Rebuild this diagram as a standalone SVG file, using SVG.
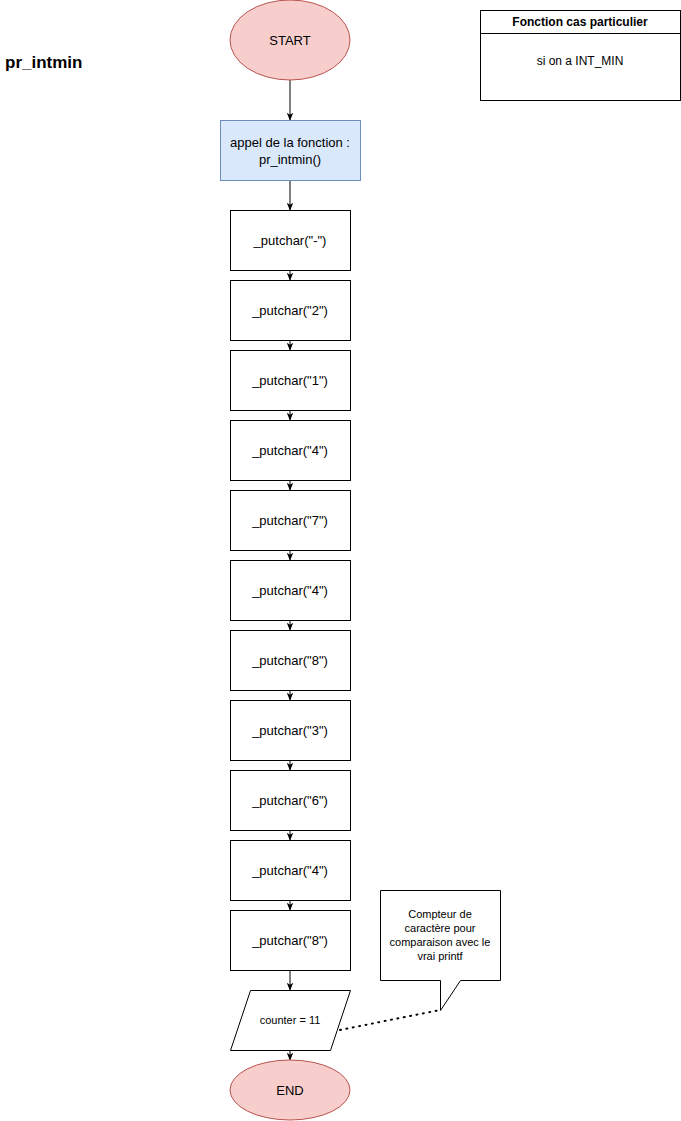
<svg xmlns="http://www.w3.org/2000/svg" width="681" height="1121" viewBox="0 0 681 1121">
<style>
text{font-family:"Liberation Sans",Arial,sans-serif;font-size:13px;fill:#000;text-anchor:middle;dominant-baseline:central}
.term{fill:#f8cecc;stroke:#b85450;stroke-width:1}
.call{fill:#dae8fc;stroke:#6c8ebf;stroke-width:1}
.box{fill:#fff;stroke:#000;stroke-width:1}
.edge{stroke:#000;stroke-width:1;fill:none;marker-end:url(#arr)}
.small{font-size:11px}
</style>
<defs>
<marker id="arr" viewBox="0 0 10 10" refX="9" refY="5" markerWidth="8" markerHeight="8" markerUnits="userSpaceOnUse" orient="auto">
<path d="M0,1 L10,5 L0,9 L2.5,5 Z" fill="#000"/>
</marker>
</defs>
<rect width="681" height="1121" fill="#fff"/>
<text x="5" y="62" style="text-anchor:start;font-size:17px;font-weight:bold">pr_intmin</text>
<g id="legend">
<rect class="box" x="480.5" y="10.5" width="200" height="90"/>
<line x1="480.5" y1="33.5" x2="680.5" y2="33.5" stroke="#000"/>
<text x="580" y="22" style="font-size:12px;font-weight:bold">Fonction cas particulier</text>
<text x="580" y="61" style="font-size:12px">si on a INT_MIN</text>
</g>
<g id="edges">
<line class="edge" x1="290" y1="80" x2="290" y2="120"/>
<line class="edge" x1="290" y1="180" x2="290" y2="210"/>
<line class="edge" x1="290" y1="270" x2="290" y2="280"/>
<line class="edge" x1="290" y1="340" x2="290" y2="350"/>
<line class="edge" x1="290" y1="410" x2="290" y2="420"/>
<line class="edge" x1="290" y1="480" x2="290" y2="490"/>
<line class="edge" x1="290" y1="550" x2="290" y2="560"/>
<line class="edge" x1="290" y1="620" x2="290" y2="630"/>
<line class="edge" x1="290" y1="690" x2="290" y2="700"/>
<line class="edge" x1="290" y1="760" x2="290" y2="770"/>
<line class="edge" x1="290" y1="830" x2="290" y2="840"/>
<line class="edge" x1="290" y1="900" x2="290" y2="910"/>
<line class="edge" x1="290" y1="970" x2="290" y2="990"/>
<line class="edge" x1="290" y1="1050" x2="290" y2="1060"/>
<line x1="340" y1="1030" x2="440" y2="1010" stroke="#000" stroke-width="2" stroke-dasharray="1 5.5" stroke-linecap="round"/>
</g>
<g id="start">
<ellipse class="term" cx="290" cy="40" rx="60" ry="40"/>
<text x="290" y="40">START</text>
</g>
<g id="call">
<rect class="call" x="220.5" y="120.5" width="140" height="60"/>
<text x="290" y="142">appel de la fonction :</text>
<text x="290" y="159">pr_intmin()</text>
</g>
<g id="p1"><rect class="box" x="230.5" y="210.5" width="120" height="60"/><text x="290" y="240">_putchar("-")</text></g>
<g id="p2"><rect class="box" x="230.5" y="280.5" width="120" height="60"/><text x="290" y="310">_putchar("2")</text></g>
<g id="p3"><rect class="box" x="230.5" y="350.5" width="120" height="60"/><text x="290" y="380">_putchar("1")</text></g>
<g id="p4"><rect class="box" x="230.5" y="420.5" width="120" height="60"/><text x="290" y="450">_putchar("4")</text></g>
<g id="p5"><rect class="box" x="230.5" y="490.5" width="120" height="60"/><text x="290" y="520">_putchar("7")</text></g>
<g id="p6"><rect class="box" x="230.5" y="560.5" width="120" height="60"/><text x="290" y="590">_putchar("4")</text></g>
<g id="p7"><rect class="box" x="230.5" y="630.5" width="120" height="60"/><text x="290" y="660">_putchar("8")</text></g>
<g id="p8"><rect class="box" x="230.5" y="700.5" width="120" height="60"/><text x="290" y="730">_putchar("3")</text></g>
<g id="p9"><rect class="box" x="230.5" y="770.5" width="120" height="60"/><text x="290" y="800">_putchar("6")</text></g>
<g id="p10"><rect class="box" x="230.5" y="840.5" width="120" height="60"/><text x="290" y="870">_putchar("4")</text></g>
<g id="p11"><rect class="box" x="230.5" y="910.5" width="120" height="60"/><text x="290" y="940">_putchar("8")</text></g>
<g id="counter">
<polygon class="box" points="250.5,990.5 350.5,990.5 330.5,1050.5 230.5,1050.5"/>
<text class="small" x="290" y="1020">counter = 11</text>
</g>
<g id="end">
<ellipse class="term" cx="290" cy="1090" rx="60" ry="30"/>
<text x="290" y="1090">END</text>
</g>
<g id="note">
<polygon class="box" points="380.5,890.5 500.5,890.5 500.5,980.5 460.5,980.5 440.5,1010.5 440.5,980.5 380.5,980.5"/>
<text class="small" x="440" y="914">Compteur de</text>
<text class="small" x="440" y="928">caractère pour</text>
<text class="small" x="440" y="942">comparaison avec le</text>
<text class="small" x="440" y="956">vrai printf</text>
</g>
</svg>
